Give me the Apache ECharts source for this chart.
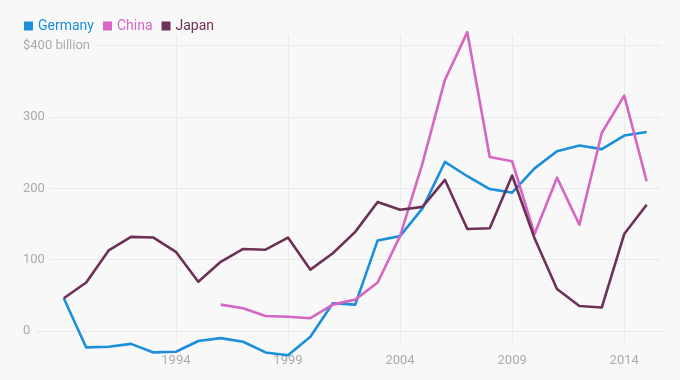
<!DOCTYPE html>
<html>
<head>
<meta charset="utf-8">
<script src="https://cdn.jsdelivr.net/npm/echarts@6/dist/echarts.min.js"></script>
<style>
html,body{margin:0;padding:0;background:#f8f8f8;}
#chart{width:680px;height:380px;}
</style>
</head>
<body>
<div id="chart"></div>
<script>
const years = [1989,1990,1991,1992,1993,1994,1995,1996,1997,1998,1999,2000,2001,2002,2003,2004,2005,2006,2007,2008,2009,2010,2011,2012,2013,2014,2015];
const germany = [46,-23,-22,-18,-30,-29,-14,-10,-15,-30,-34,-8,39,37,127,133,172,237,217,199,194,228,252,260,255,274,279];
const china = [null,null,null,null,null,null,null,37,32,21,20,18,37,44,68,133,235,352,419,244,238,136,215,149,278,330,210];
const japan = [46,68,113,132,131,111,69,97,115,114,131,86,109,139,181,170,174,212,143,144,218,130,59,35,33,136,177];
const xTicks = [1994,1999,2004,2009,2014];
const yTicks = [0,100,200,300,400];

const colors = {Germany:'#1b8fdb', China:'#d566c3', Japan:'#6c3157'};
function pairs(vals){ return years.map((y,i)=>[y, vals[i]]).filter(p=>p[1]!==null); }

const chart = echarts.init(document.getElementById('chart'), null, {renderer:'canvas'});
const font = 'Roboto, "Noto Sans", sans-serif';
chart.setOption({
  backgroundColor:'#f8f8f8',
  animation:false,
  textStyle:{fontFamily:font},
  legend:{
    left:19, top:14, icon:'rect', itemWidth:9, itemHeight:9, itemGap:9,
    textStyle:{fontSize:14, fontFamily:font},
    data:[
      {name:'Germany', textStyle:{color:colors.Germany}},
      {name:'China', textStyle:{color:colors.China}},
      {name:'Japan', textStyle:{color:colors.Japan}}
    ]
  },
  grid:{left:23, right:19, top:35, bottom:37, containLabel:false},
  xAxis:{
    type:'value', min:1987.18, max:2015.64, z:1,
    axisLine:{show:true, onZero:true, lineStyle:{color:'#a8a8a8', width:1}},
    axisTick:{show:false, customValues:xTicks},
    axisLabel:{customValues:xTicks, color:'#ababab', fontSize:13, margin:11, fontFamily:font, formatter:v=>String(v)},
    splitLine:{show:true, lineStyle:{color:'#ebebeb', width:1}}
  },
  yAxis:{
    type:'value', min:-16.8, max:415, z:3,
    axisLine:{show:false},
    axisTick:{show:false, customValues:yTicks},
    axisLabel:{
      customValues:yTicks, align:'left', margin:0, color:'#ababab', fontSize:13, fontFamily:font,
      backgroundColor:'#f8f8f8', padding:[0,5,0,0],
      formatter:v=> v===400 ? '$400 billion' : String(v)
    },
    splitLine:{show:true, lineStyle:{color:'#e9e9e9', width:1}}
  },
  series:[
    {name:'Germany', type:'line', data:pairs(germany), showSymbol:false, symbol:'none', clip:false, z:5,
     itemStyle:{color:colors.Germany}, lineStyle:{color:colors.Germany, width:2.6, join:'round'}},
    {name:'China', type:'line', data:pairs(china), showSymbol:false, symbol:'none', clip:false, z:5,
     itemStyle:{color:colors.China}, lineStyle:{color:colors.China, width:2.6, join:'round'}},
    {name:'Japan', type:'line', data:pairs(japan), showSymbol:false, symbol:'none', clip:false, z:5,
     itemStyle:{color:colors.Japan}, lineStyle:{color:colors.Japan, width:2.6, join:'round'}}
  ]
});
</script>
</body>
</html>
